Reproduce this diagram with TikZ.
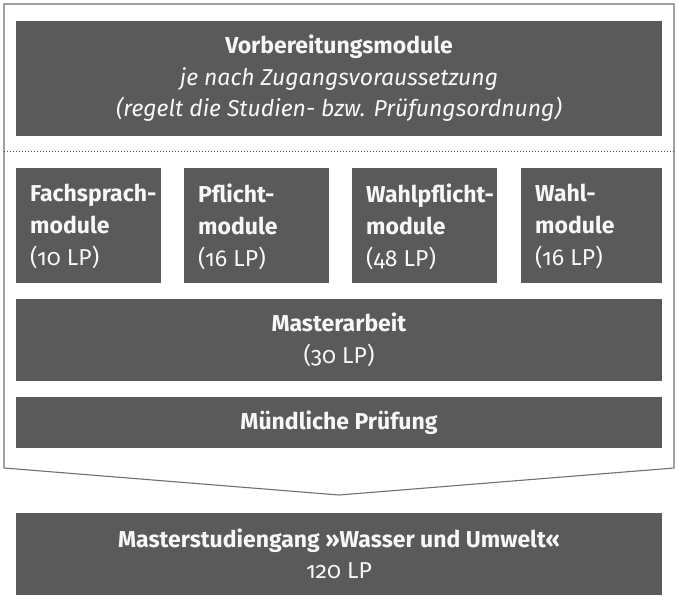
\documentclass[tikz,border=0pt]{standalone}
\usepackage{fontspec}
\setmainfont{Fira Sans}[Numbers=OldStyle]
\definecolor{boxgray}{HTML}{5A5A5A}
\definecolor{linegray}{HTML}{707070}
\definecolor{txt}{HTML}{F7F7F7}
\begin{document}
\begin{tikzpicture}[x=1pt,y=-1pt,
  box/.style={fill=boxgray, draw=none, inner sep=0pt, text=txt, align=center,
    font=\fontsize{23}{31.5}\selectfont},
  smallbox/.style={fill=boxgray, draw=none, inner sep=0pt, anchor=north west,
    minimum width=145pt, minimum height=115pt},
  smalltext/.style={anchor=west, inner sep=0pt, text=txt, align=left,
    font=\fontsize{23}{32}\selectfont},
  outline/.style={draw=linegray, line width=1.1pt}]
\useasboundingbox (0,0) rectangle (678,600);
\fill[white] (0,0) rectangle (678,600);
% outer arrow shape
\draw[outline] (4,4) -- (674,4) -- (674,468) -- (339,495) -- (4,468) -- cycle;
% top box
\node[box, minimum width=646pt, minimum height=115pt] (prep) at (339,78.5)
  {\textbf{Vorbereitungsmodule}\\ \textit{je nach Zugangsvoraussetzung}\\ \textit{(regelt die Studien- bzw. Prüfungsordnung)}};
% dotted separator
\coordinate (dl) at (4,151);
\coordinate (dr) at (674,151);
\draw[black!70, dotted, line width=1pt] (dl) -- (dr);
% small boxes
\node[smallbox] (b1) at (16,168) {};
\node[smallbox] (b2) at (184,168) {};
\node[smallbox] (b3) at (352,168) {};
\node[smallbox, minimum width=141pt] (b4) at (521,168) {};
\node[smalltext] (t1) at ([xshift=14pt,yshift=-1pt]b1.west) {\textbf{Fachsprach-}\\ \textbf{module}\\ (10 LP)};
\node[smalltext] (t2) at ([xshift=14pt,yshift=-1pt]b2.west) {\textbf{Pflicht-}\\ \textbf{module}\\ (16 LP)};
\node[smalltext] (t3) at ([xshift=14pt,yshift=-1pt]b3.west) {\textbf{Wahlpflicht-}\\ \textbf{module}\\ (48 LP)};
\node[smalltext] (t4) at ([xshift=14pt,yshift=-1pt]b4.west) {\textbf{Wahl-}\\ \textbf{module}\\ (16 LP)};
% Masterarbeit
\node[box, minimum width=646pt, minimum height=82pt] (ma) at (339,340)
  {\textbf{Masterarbeit}\\ (30 LP)};
% Mündliche Prüfung
\node[box, minimum width=646pt, minimum height=51pt] (mp) at (339,422.5)
  {\textbf{Mündliche Prüfung}};
% final
\node[box, minimum width=646pt, minimum height=82pt] (ms) at (339,554)
  {\textbf{Masterstudiengang »Wasser und Umwelt«}\\ 120 LP};
\end{tikzpicture}
\end{document}
